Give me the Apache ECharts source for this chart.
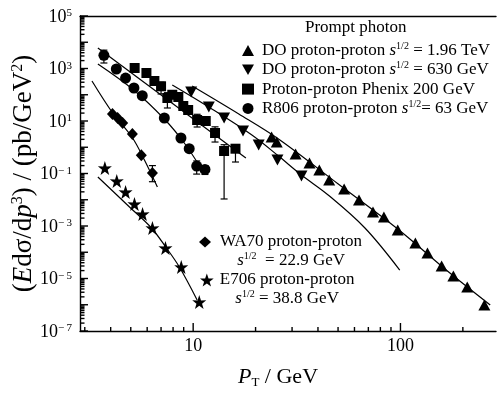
<!DOCTYPE html>
<html><head><meta charset="utf-8">
<script src="https://cdn.jsdelivr.net/npm/echarts@6/dist/echarts.min.js"></script>
<style>html,body{margin:0;padding:0;background:#fff}#c{width:499px;height:395px}</style>
</head><body><div id="c"></div>
<script>
// ---------- axis ranges & ticks ----------
const X_MIN = 2.845, X_MAX = 289, Y_MIN = 1e-7, Y_MAX = 1e5;
const xMajorTicks = [10, 100];
const xMinorTicks = [3,4,5,6,7,8,9,20,30,40,50,60,70,80,90,200];
const yDecades = [1e-7,1e-6,1e-5,1e-4,1e-3,1e-2,1e-1,1,10,100,1e3,1e4,1e5];
const yLabelExps = [-7,-5,-3,-1,1,3,5];
const yMinorMult = [2,3,4,5,6,7,8,9];

// ---------- data: D0 proton-proton 1.96 TeV ----------
const d0TevX = [23.9,25.3,31.2,36.4,40.6,45.3,53.5,63.1,73.7,83.2,97.0,118,135,158,180,210,254];
const d0TevY = [2.46,1.58,0.553,0.251,0.136,0.0565,0.0257,9.8e-3,3.41e-3,2.2e-3,7.05e-4,2.25e-4,9.36e-5,2.99e-5,1.24e-5,4.74e-6,9.8e-7];
// D0 proton-proton 630 GeV
const d0630X = [9.78,11.9,14.1,17.4,20.7,25.5,33.3];
const d0630Y = [127,34.1,13.0,4.16,1.22,0.327,0.080];
// Phenix 200 GeV
const phenixX = [5.22,5.95,6.50,7.00,7.51,7.93,8.48,8.96,9.46,10.45,11.5,12.75,14.1,16.0];
const phenixY = [1045,674,334,210,75.2,100,82,37.3,26.2,10.9,10.0,3.49,0.72,0.88];
const phenixErrX = [7.00,7.51,10.45,12.75,14.1,16.0];
const phenixErrLo = [107,31.3,5.9,1.58,0.0107,0.274];
const phenixErrHi = [300,120,18,6,1.25,1.25];
// R806 63 GeV
const r806X = [3.71,4.26,4.72,5.18,5.68,7.26,8.73,9.57,10.4,11.4];
const r806Y = [3185,957,434,181,92,13.0,2.25,0.88,0.192,0.143];
const r806ErrX = [3.71,10.4,11.4];
const r806ErrLo = [1620,0.095,0.092];
const r806ErrHi = [5000,0.3,0.2];
// WA70 22.9 GeV
const wa70X = [4.08,4.32,4.57,5.09,5.62,6.36];
const wa70Y = [18.5,13.0,8.4,3.2,0.493,0.104];
const wa70ErrX = [6.36];
const wa70ErrLo = [0.0487];
const wa70ErrHi = [0.2];
// E706 38.8 GeV
const e706X = [3.75,4.28,4.72,5.21,5.70,6.36,7.35,8.76,10.7];
const e706Y = [0.162,0.0518,0.0197,6.9e-3,2.87e-3,8.4e-4,1.45e-4,2.74e-5,1.27e-6];

// ---------- theory curves ----------
const fitTevX = [9.89,16.6,25.8,50.1,97.0,168.5,271];
const fitTevY = [215,18.5,2.06,0.0398,7.7e-4,1.93e-5,9.8e-7];
const fit630X = [7.93,11.67,19.2,25.8,33.3,44.8,67.4,99.2];
const fit630Y = [235,37.3,2.93,0.464,0.0877,0.0152,8.4e-4,2.1e-5];
const fitPhenixX = [3.47,17.96];
const fitPhenixY = [6040,0.389];
const fitR806X = [3.47,5.16,7.26,9.06,11.04];
const fitR806Y = [1483,152,11.9,1.45,0.136];
const fitWa70X = [3.25,4.09,5.10,5.82,6.72];
const fitWa70Y = [334,20.2,2.25,0.327,0.0306];
const fitE706X = [3.47,4.93,6.29,7.43,8.58,10.45];
const fitE706Y = [0.0736,5.3e-3,8.4e-4,1.45e-4,2.74e-5,1.52e-6];

// ---------- helpers ----------
const FONT = 'Liberation Serif';
const zip = (a, b) => a.map((v, i) => [v, b[i]]);
const zip3 = (a, b, c) => a.map((v, i) => [v, b[i], c[i]]);
const INV_TRI = 'path://M0,0L10,0L5,8.66Z';
const STAR = 'path://M50,0L61.8,35.1L97.6,34.5L69.1,56.7L79.4,90.5L50,70L20.6,90.5L30.9,56.7L2.4,34.5L38.2,35.1Z';

function scatter(name, x, y, symbol, size) {
  return { type: 'scatter', name, data: zip(x, y), symbol, symbolSize: size,
    itemStyle: { color: '#000', opacity: 1 }, z: 4, silent: true };
}
function fitLine(x, y) {
  return { type: 'line', data: zip(x, y), symbol: 'none', showSymbol: false, smooth: 0.35,
    lineStyle: { color: '#000', width: 1.2 }, z: 2, silent: true };
}
function errBars(x, lo, hi) {
  return { type: 'custom', data: zip3(x, lo, hi), z: 3, silent: true, clip: false,
    renderItem(p, api) {
      const a = api.coord([api.value(0), api.value(1)]);
      const b = api.coord([api.value(0), api.value(2)]);
      const w = 3.5, st = { stroke: '#000', lineWidth: 1.2 };
      return { type: 'group', children: [
        { type: 'line', shape: { x1: a[0], y1: a[1], x2: b[0], y2: b[1] }, style: st },
        { type: 'line', shape: { x1: a[0]-w, y1: a[1], x2: a[0]+w, y2: a[1] }, style: st },
        { type: 'line', shape: { x1: b[0]-w, y1: b[1], x2: b[0]+w, y2: b[1] }, style: st }
      ]};
    } };
}
function ticks(values, dir, len) {
  const data = values.map(v => dir === 'x' ? [v, Y_MIN] : [X_MIN, v]);
  return { type: 'custom', data, z: 6, silent: true, clip: false,
    renderItem(p, api) {
      const c = api.coord([api.value(0), api.value(1)]);
      const shape = dir === 'x' ? { x1: c[0], y1: c[1], x2: c[0], y2: c[1] - len }
                                : { x1: c[0], y1: c[1], x2: c[0] + len, y2: c[1] };
      return { type: 'line', shape, style: { stroke: '#000', lineWidth: 1.4 } };
    } };
}
// y-axis tick labels (10^n) placed through the y scale
const yLabelSeries = {
  type: 'custom', data: yLabelExps.map(e => [X_MIN, Math.pow(10, e), e]), z: 6, silent: true, clip: false,
  renderItem(p, api) {
    const c = api.coord([api.value(0), api.value(1)]);
    const e = api.value(2);
    const txt = '{b|10}{e|' + (e < 0 ? '\u2212\u2009' + (-e) : e) + '}';
    return { type: 'text', x: c[0] - 8, y: c[1] + 1, style: {
      text: txt, align: 'right', verticalAlign: 'middle', fill: '#000',
      rich: { b: { fontFamily: FONT, fontSize: 18, fill: '#000', lineHeight: 18 },
              e: { fontFamily: FONT, fontSize: 11, fill: '#000', verticalAlign: 'top', lineHeight: 11 } } } };
  } };
const yMinorTicks = [];
yDecades.slice(0, -1).forEach(d => yMinorMult.forEach(m => yMinorTicks.push(m * d)));

const richBase = {
  n: { fontFamily: FONT, fontSize: 17, color: '#000', lineHeight: 19 },
  i: { fontFamily: FONT, fontSize: 17, fontStyle: 'italic', color: '#000', lineHeight: 19 },
  sup: { fontFamily: FONT, fontSize: 10, color: '#000', verticalAlign: 'top', lineHeight: 12 }
};
const richCenter = {
  n: Object.assign({}, richBase.n, { align: 'center' }),
  i: Object.assign({}, richBase.i, { align: 'center' }),
  sup: Object.assign({}, richBase.sup, { align: 'center' })
};
const legendLabels = {
  'D0 1.96 TeV': '{n|DO proton-proton }{i|s}{sup|1/2}{n| = 1.96 TeV}',
  'D0 630 GeV': '{n|DO proton-proton }{i|s}{sup|1/2}{n| = 630 GeV}',
  'Phenix': '{n|Proton-proton Phenix 200 GeV}',
  'R806': '{n|R806 proton-proton }{i|s}{sup|1/2}{n|= 63 GeV}',
  'WA70': '{n|WA70 proton-proton}\n{i|s}{sup|1/2}{n|  = 22.9 GeV}',
  'E706': '{n|E706 proton-proton}\n{i|s}{sup|1/2}{n| = 38.8 GeV}'
};

const chart = echarts.init(document.getElementById('c'), null, { renderer: 'canvas' });
chart.setOption({
  animation: false,
  backgroundColor: '#fff',
  title: { text: 'Prompt photon', left: 305, top: 19, padding: 0,
    textStyle: { fontFamily: FONT, fontSize: 17, fontWeight: 'normal', color: '#000' } },
  grid: { left: 80, right: 0, top: 16, bottom: 64, containLabel: false },
  xAxis: [{
    type: 'log', min: X_MIN, max: X_MAX, splitNumber: 2,
    axisLine: { lineStyle: { color: '#000', width: 1.4 } },
    axisTick: { show: false }, splitLine: { show: false }, minorTick: { show: false },
    axisLabel: { margin: 6, fontFamily: FONT, fontSize: 18, color: '#000',
      formatter: v => { const e = Math.log10(v); return (Math.abs(e - Math.round(e)) < 1e-6 && v > 5) ? String(Math.round(v)) : ''; } },
    name: '{i|P}{sub|T}{n| / GeV}', nameLocation: 'middle', nameGap: 34,
    nameTextStyle: { padding: [0, 20, 0, 0], rich: {
      i: { fontFamily: FONT, fontSize: 22, fontStyle: 'italic', color: '#000', lineHeight: 24 },
      sub: { fontFamily: FONT, fontSize: 13, color: '#000', verticalAlign: 'bottom', lineHeight: 14 },
      n: { fontFamily: FONT, fontSize: 22, color: '#000', lineHeight: 24 } } }
  }, {
    type: 'log', min: X_MIN, max: X_MAX, position: 'top',
    axisLine: { lineStyle: { color: '#000', width: 1.4 } },
    axisTick: { show: false }, axisLabel: { show: false }, splitLine: { show: false }
  }],
  yAxis: {
    type: 'log', min: Y_MIN, max: Y_MAX,
    axisLine: { lineStyle: { color: '#000', width: 1.4 } },
    axisTick: { show: false }, splitLine: { show: false }, minorTick: { show: false },
    axisLabel: { show: false },
    name: '{n|(}{i|E}{n|d\u03c3/d}{i|p}{sup|3}{n|) / (pb/GeV}{sup|2}{n|)}',
    nameLocation: 'middle', nameRotate: 90, nameGap: 42,
    nameTextStyle: { rich: {
      n: { fontFamily: FONT, fontSize: 27, color: '#000', lineHeight: 28 },
      i: { fontFamily: FONT, fontSize: 27, fontStyle: 'italic', color: '#000', lineHeight: 28 },
      sup: { fontFamily: FONT, fontSize: 16, color: '#000', verticalAlign: 'top', lineHeight: 17 } } }
  },
  legend: [{
    data: ['D0 1.96 TeV', 'D0 630 GeV', 'Phenix', 'R806'],
    orient: 'vertical', left: 242, top: 41, padding: 0, itemGap: 0.3,
    itemWidth: 12, itemHeight: 11, selectedMode: false,
    formatter: n => legendLabels[n],
    textStyle: { padding: [0, 0, 0, 3], lineHeight: 19, rich: richBase }
  }, {
    data: ['WA70'], orient: 'vertical', left: 199, top: 213.5, padding: 0,
    itemWidth: 12, itemHeight: 11, selectedMode: false,
    formatter: n => legendLabels[n],
    textStyle: { padding: [19, 0, 0, 4], lineHeight: 19, rich: richCenter }
  }, {
    data: ['E706'], orient: 'vertical', left: 200, top: 251.5, padding: 0,
    itemWidth: 14, itemHeight: 13, selectedMode: false,
    formatter: n => legendLabels[n],
    textStyle: { padding: [19, 0, 0, 1], lineHeight: 19, rich: richCenter }
  }],
  series: [
    fitLine(fitTevX, fitTevY), fitLine(fit630X, fit630Y), fitLine(fitPhenixX, fitPhenixY),
    fitLine(fitR806X, fitR806Y), fitLine(fitWa70X, fitWa70Y), fitLine(fitE706X, fitE706Y),
    errBars(phenixErrX, phenixErrLo, phenixErrHi), errBars(r806ErrX, r806ErrLo, r806ErrHi),
    errBars(wa70ErrX, wa70ErrLo, wa70ErrHi),
    scatter('D0 1.96 TeV', d0TevX, d0TevY, 'triangle', [12, 11]),
    scatter('D0 630 GeV', d0630X, d0630Y, INV_TRI, [12, 11]),
    scatter('Phenix', phenixX, phenixY, 'rect', [10, 10]),
    scatter('R806', r806X, r806Y, 'circle', 11),
    scatter('WA70', wa70X, wa70Y, 'diamond', [11, 12]),
    scatter('E706', e706X, e706Y, STAR, 14),
    ticks(xMinorTicks, 'x', 4), ticks(xMajorTicks, 'x', 8),
    ticks(yMinorTicks, 'y', 4.5), ticks(yDecades, 'y', 8),
    yLabelSeries
  ]
});
</script></body></html>
